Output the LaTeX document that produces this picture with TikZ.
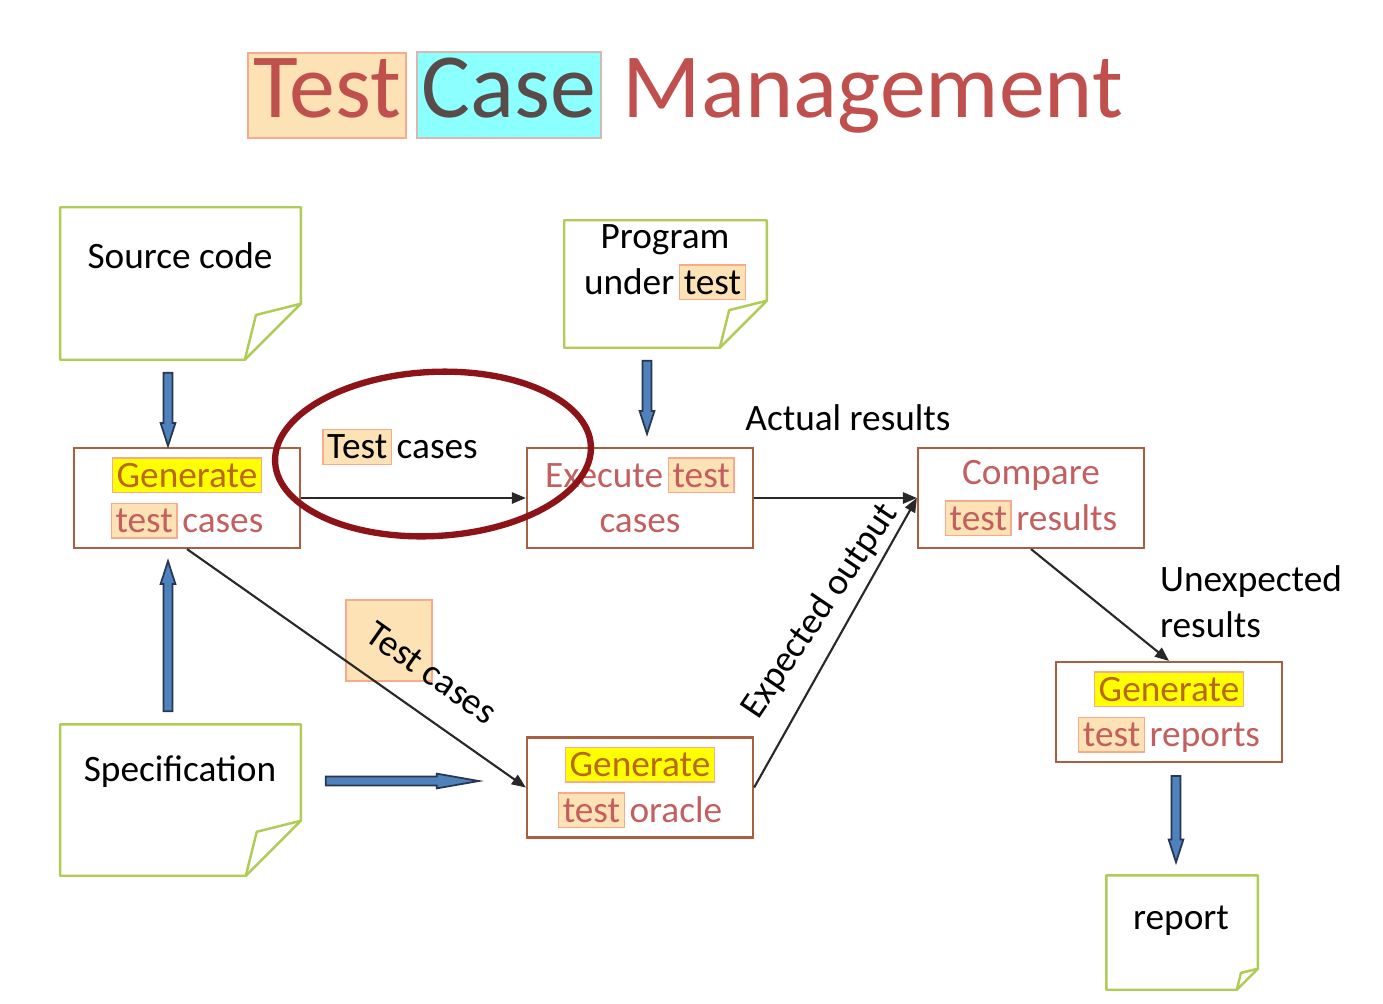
\documentclass[tikz,border=0pt]{standalone}
\usepackage{fontspec}
\setmainfont{Carlito}
\usetikzlibrary{calc,arrows.meta}

\definecolor{titlered}{RGB}{192,80,77}
\definecolor{casegray}{RGB}{90,75,75}
\definecolor{procline}{RGB}{170,95,65}
\definecolor{proctext}{RGB}{195,95,95}
\definecolor{genbrown}{RGB}{185,105,20}
\definecolor{hlyellow}{RGB}{255,255,0}
\definecolor{hlorange}{RGB}{252,226,180}
\definecolor{hledge}{RGB}{248,170,140}
\definecolor{hlcyan}{RGB}{140,255,255}
\definecolor{cyanedge}{RGB}{215,185,180}
\definecolor{docline}{RGB}{175,205,85}
\definecolor{arrowblue}{RGB}{79,129,189}
\definecolor{arrowedge}{RGB}{40,55,80}
\definecolor{linkgray}{RGB}{40,40,40}
\definecolor{ringred}{RGB}{140,20,25}

\newcommand{\bodyfont}{\fontsize{10.6}{13}\selectfont}
\newcommand{\pstrut}{\rule[-1.7pt]{0pt}{8.8pt}}
\newcommand{\gap}{\hspace{1.3pt}}
\newcommand{\hl}[3]{{\setlength{\fboxsep}{1pt}\setlength{\fboxrule}{0.4pt}\fcolorbox{#1}{#2}{\rule[-0.3pt]{0pt}{7.4pt}#3}}}
\newcommand{\gen}{\hl{hledge}{hlyellow}{\textcolor{genbrown}{Generate}}}
\newcommand{\tst}{\hl{hledge}{hlorange}{test}}
\newcommand{\titlebox}[4]{{\setlength{\fboxsep}{1.2pt}\setlength{\fboxrule}{0.5pt}\fcolorbox{#2}{#1}{\rule[-4.6pt]{0pt}{18.3pt}\textcolor{#3}{#4}}}}

% page with a folded corner, drawn round a named node
\newcommand{\foldpage}[2]{%
  \draw[docline, line width=0.7pt, line join=round]
    (#1.north west) -- (#1.north east) -- ($(#1.south east)+(0,-#2)$)
    -- ($(#1.south east)+(-#2,0)$) -- (#1.south west) -- cycle
    ($(#1.south east)+(0,-#2)$) -- ($(#1.south east)+(-0.8*#2,-0.8*#2)$)
    -- ($(#1.south east)+(-#2,0)$);
}
% blue block arrow between two named coordinates
\newcommand{\blockarrow}[3]{%
  \coordinate (bah) at ($(#2)!#3!(#1)$);
  \filldraw[draw=arrowedge, fill=arrowblue, line width=0.5pt]
    ($(#1)!1.3pt!90:(#2)$) -- ($(bah)!1.3pt!90:(#2)$) -- ($(bah)!2.1pt!90:(#2)$)
    -- (#2) -- ($(bah)!2.1pt!-90:(#2)$) -- ($(bah)!1.3pt!-90:(#2)$)
    -- ($(#1)!1.3pt!-90:(#2)$) -- cycle;
}

\begin{document}
\begin{tikzpicture}[x=0.01cm, y=-0.01cm,
  proc/.style={draw=procline, line width=0.6pt, minimum width=2.26cm,
    minimum height=1cm, inner sep=0pt, align=center, text=proctext, font=\bodyfont},
  docbox/.style={inner sep=0pt},
  lbl/.style={font=\bodyfont, inner sep=0pt, text=black},
  link/.style={draw=linkgray, line width=0.6pt, -{Triangle[length=4pt,width=3.2pt]}},
  ring/.style={draw=ringred, line width=1.8pt}]
  \useasboundingbox (0,0) rectangle (1383,1003);
  \fill[white] (0,0) rectangle (1383,1003);

  % title
  \node[anchor=base, inner sep=0pt, font=\fontsize{26.1}{30}\selectfont] (title) at (685,117)
    {\titlebox{hlorange}{hledge}{titlered}{Test}\hspace{2.5pt}\titlebox{hlcyan}{cyanedge}{casegray}{Case}
     \textcolor{titlered}{Management}};

  % documents
  \node[docbox, minimum width=2.39cm, minimum height=1.51cm] (srcdoc)  at (180.5,283.5) {};
  \node[docbox, minimum width=2.01cm, minimum height=1.26cm] (progdoc) at (665.5,284) {};
  \node[docbox, minimum width=2.39cm, minimum height=1.50cm] (specdoc) at (180.5,800) {};
  \node[docbox, minimum width=1.50cm, minimum height=1.13cm] (repdoc)  at (1182,932.5) {};
  \foldpage{srcdoc}{56}
  \foldpage{progdoc}{47}
  \foldpage{specdoc}{55}
  \foldpage{repdoc}{21}
  \node[lbl] (srctext)  at (180,256) {Source code};
  \node[lbl, align=center] (progtext) at (665,262) {\pstrut Program\\\pstrut under\gap\tst};
  \node[lbl] (spectext) at (180,772) {Specification};
  \node[lbl] (reptext)  at (1181,921) {report};

  % processes
  \node[proc] (gen)    at (187,498)   {\pstrut\gen\\\pstrut\tst\gap cases};
  \node[proc] (exec)   at (640,498)   {\pstrut Execute\gap\tst\\\pstrut cases};
  \node[proc] (cmp)    at (1031,498)  {\pstrut Compare\\\pstrut\tst\gap results};
  \node[proc] (oracle) at (640,787.5) {\pstrut\gen\\\pstrut\tst\gap oracle};
  \node[proc] (rep)    at (1169,712)  {\pstrut\gen\\\pstrut\tst\gap reports};

  % block arrows
  \coordinate (srcout)  at ($(srcdoc.south)+(-12.5,13)$);
  \coordinate (genin)   at ($(gen.north)+(-19,-1)$);
  \coordinate (specout) at ($(specdoc.north)+(-12.5,-13)$);
  \coordinate (genup)   at ($(gen.south)+(-19,12)$);
  \coordinate (progout) at ($(progdoc.south)+(-18.5,13)$);
  \coordinate (execin)  at ($(exec.north)+(7,-13)$);
  \coordinate (specright) at ($(specdoc.east)+(25,-19)$);
  \coordinate (oraclein)  at ($(oracle.west)+(-47,-6.5)$);
  \coordinate (repout)  at ($(rep.south)+(7,13)$);
  \coordinate (repin)   at ($(repdoc.north)+(-6,-13)$);
  \blockarrow{srcout}{genin}{6.5pt}
  \blockarrow{specout}{genup}{6.5pt}
  \blockarrow{progout}{execin}{6.5pt}
  \blockarrow{specright}{oraclein}{12pt}
  \blockarrow{repout}{repin}{6.5pt}

  % labels and links
  \node[lbl] (tclabel) at (400,447) {\hl{hledge}{hlorange}{Test}\gap cases};
  \node[lbl] (actual)  at (848,418) {Actual results};
  \node[lbl, align=left] (unexp) at (1251,602) {Unexpected\\results};
  \node[draw=hledge, fill=hlorange, line width=0.4pt, minimum width=0.86cm,
    minimum height=0.81cm] (tcbox) at (389,640.5) {};
  \node[lbl, rotate=56] (expout) at (820,611) {Expected output};

  \draw[link] (gen) -- (exec);
  \draw[link] (exec) -- (cmp);
  \draw[link] (gen.south) -- node[lbl, sloped, pos=0.655, above=7.5pt] (tcslope) {Test cases} (oracle.west);
  \draw[link] (oracle.east) -- (cmp.west);
  \draw[link] (cmp.south) -- (rep.north);

  \draw[ring, rotate around={3:(433,454)}] (433,454) ellipse [x radius=1.58cm, y radius=0.82cm];
\end{tikzpicture}
\end{document}
